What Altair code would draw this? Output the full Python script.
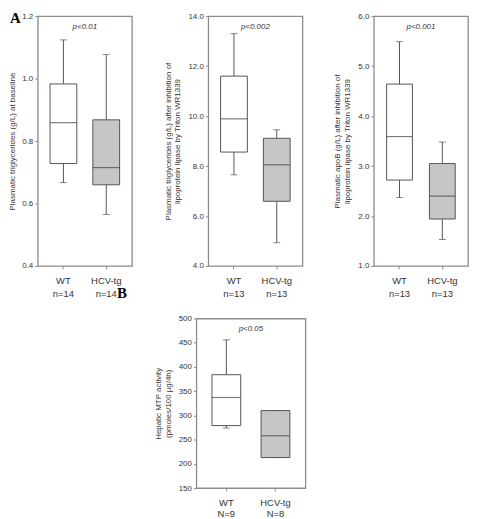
import altair as alt
import pandas as pd

groups = ["WT", "HCV-tg"]
fills = ["#ffffff", "#c6c6c6"]

# Panel A1: plasmatic triglycerides at baseline (g/L)
a1_n = ["n=14", "n=14"]
a1_min = [0.667, 0.565]
a1_q1 = [0.728, 0.660]
a1_med = [0.859, 0.715]
a1_q3 = [0.983, 0.868]
a1_max = [1.124, 1.077]
a1_ticks = [0.4, 0.6, 0.8, 1.0, 1.2]

# Panel A2: plasmatic triglycerides after Triton WR1339 (g/L)
a2_n = ["n=13", "n=13"]
a2_min = [7.65, 4.93]
a2_q1 = [8.56, 6.59]
a2_med = [9.89, 8.05]
a2_q3 = [11.6, 9.11]
a2_max = [13.3, 9.45]
a2_ticks = [4.0, 6.0, 8.0, 10.0, 12.0, 14.0]

# Panel A3: plasmatic apoB after Triton WR1339 (g/L)
a3_n = ["n=13", "n=13"]
a3_min = [2.37, 1.53]
a3_q1 = [2.72, 1.94]
a3_med = [3.59, 2.40]
a3_q3 = [4.64, 3.05]
a3_max = [5.49, 3.48]
a3_ticks = [1.0, 2.0, 3.0, 4.0, 5.0, 6.0]

# Panel B: hepatic MTP activity
b_n = ["N=9", "N=8"]
b_min = [274, 213]
b_q1 = [279, 213]
b_med = [337, 258]
b_q3 = [384, 310]
b_max = [456, 310]
b_ticks = [150, 200, 250, 300, 350, 400, 450, 500]

p_values = ["p<0.01", "p<0.002", "p<0.001", "p<0.05"]
panel_letters = ["A", "B"]

FONT = "Liberation Sans"
TXT = "#333333"
FRAME = "#8c8c8c"
BOXLINE = "#555555"


def panel(n_labels, mins, q1s, meds, q3s, maxs, ticks, fmt, ytitle, ptext,
          w, h, pad_outer, box, title_pad, line_h):
    df = pd.DataFrame({
        "grp": [g + "|" + n for g, n in zip(groups, n_labels)],
        "kind": groups,
        "lo": mins, "q1": q1s, "med": meds, "q3": q3s, "hi": maxs,
    })
    xenc = alt.X("grp:N", sort=None, title=None,
                 scale=alt.Scale(paddingInner=0, paddingOuter=pad_outer),
                 axis=alt.Axis(labelExpr="split(datum.label, '|')", labelAngle=0,
                               labelPadding=7, labelLineHeight=line_h,
                               labelFontSize=9.5, ticks=True))
    yscale = alt.Scale(domain=[ticks[0], ticks[-1]], nice=False, zero=False)
    yaxis = alt.Axis(values=ticks, format=fmt, title=ytitle, titlePadding=title_pad,
                     titleLineHeight=10, labelPadding=2)

    def Y(f):
        return alt.Y(f + ":Q", scale=yscale, axis=yaxis)

    base = alt.Chart(df)
    whisker = base.mark_rule(color=BOXLINE, strokeWidth=1).encode(
        x=xenc, y=Y("lo"), y2="hi:Q")
    cap_lo = base.mark_tick(color=BOXLINE, size=7, thickness=1).encode(x=xenc, y=Y("lo"))
    cap_hi = base.mark_tick(color=BOXLINE, size=7, thickness=1).encode(x=xenc, y=Y("hi"))
    boxes = base.mark_bar(size=box, stroke=BOXLINE, strokeWidth=1).encode(
        x=xenc, y=Y("q1"), y2="q3:Q",
        fill=alt.Fill("kind:N", scale=alt.Scale(domain=groups, range=fills), legend=None))
    median = base.mark_tick(color="#444444", size=box, thickness=1.2).encode(
        x=xenc, y=Y("med"))
    ptxt = alt.Chart(pd.DataFrame({"t": [ptext]})).mark_text(
        font=FONT, fontSize=8, fontStyle="italic", color=TXT, baseline="middle"
    ).encode(text="t:N", x=alt.value(w / 2), y=alt.value(11))
    return alt.layer(whisker, boxes, median, cap_lo, cap_hi, ptxt).properties(
        width=w, height=h)


p1 = panel(a1_n, a1_min, a1_q1, a1_med, a1_q3, a1_max, a1_ticks, ".1f",
           "Plasmatic triglycerides (g/L) at baseline", p_values[0],
           95, 252, 0.1, 27, 5, 13)
letter_a = alt.Chart(pd.DataFrame({"t": [panel_letters[0]]})).mark_text(
    font="Liberation Serif", fontSize=15, fontWeight="bold", color="#000000",
    align="left", baseline="top").encode(text="t:N", x=alt.value(-28), y=alt.value(-5))
letter_b = alt.Chart(pd.DataFrame({"t": [panel_letters[1]]})).mark_text(
    font="Liberation Serif", fontSize=15, fontWeight="bold", color="#000000",
    align="left", baseline="top").encode(text="t:N", x=alt.value(80), y=alt.value(272))
p1 = alt.layer(p1, letter_a, letter_b)

p2 = panel(a2_n, a2_min, a2_q1, a2_med, a2_q3, a2_max, a2_ticks, ".1f",
           ["Plasmatic triglycerides (g/L) after inhibition of",
            "lipoprotein lipase by Triton WR1339"], p_values[1],
           95, 252, 0.1, 27, 6, 13)
p3 = panel(a3_n, a3_min, a3_q1, a3_med, a3_q3, a3_max, a3_ticks, ".1f",
           ["Plasmatic apoB  (g/L) after inhibition of",
            "lipoprotein lipase by Triton WR1339"], p_values[2],
           95, 252, 0.1, 26, 6, 13)
pb = panel(b_n, b_min, b_q1, b_med, b_q3, b_max, b_ticks, "d",
           ["Hepatic MTP activity", "(pmoles/100 \u00b5g/4h)"], p_values[3],
           110, 171, 0.11, 29, 6, 11)

spacer = alt.Chart(pd.DataFrame({"t": [""]})).mark_text().encode(
    text="t:N", x=alt.value(0), y=alt.value(0)
).properties(width=1, height=1, view=alt.ViewBackground(strokeOpacity=0))

row1 = alt.hconcat(p1, p2, p3, spacing=30)
row2 = alt.hconcat(spacer, pb, spacing=116)

chart = alt.vconcat(row1, row2, spacing=11).configure_view(
    stroke=FRAME, strokeWidth=1.3
).configure_axis(
    labelFont=FONT, titleFont=FONT, labelColor=TXT, titleColor=TXT,
    labelFontSize=8, titleFontSize=8, titleFontWeight="normal",
    domain=False, grid=False, tickColor=FRAME, tickSize=3,
).properties(padding=0)

chart.save("out.html", embed_options={"renderer": "svg", "actions": False})
